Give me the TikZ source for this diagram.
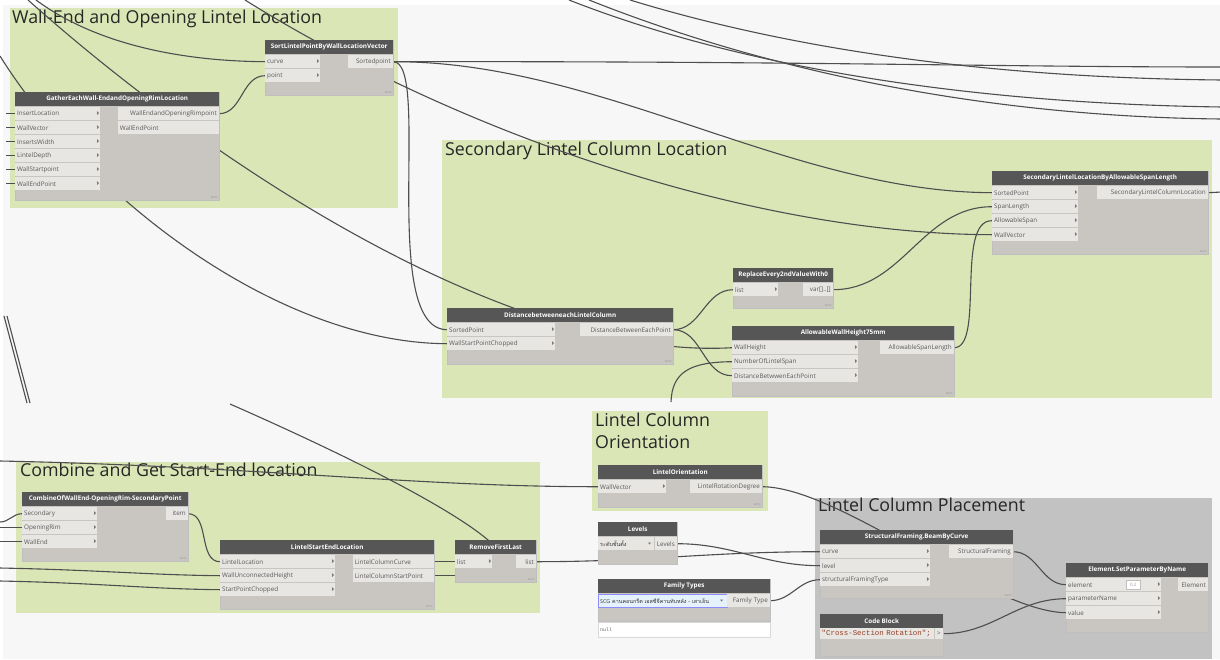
\documentclass[tikz,border=0pt]{standalone}
\usepackage{fontspec}
\setmainfont{Open Sans}
\setmonofont{Liberation Mono}
\newfontfamily\thaifont[Script=Thai]{Loma}
\usetikzlibrary{positioning,calc}

\definecolor{canvas}{RGB}{247,247,247}
\definecolor{grpgreen}{RGB}{219,230,183}
\definecolor{grpgray}{RGB}{194,194,194}
\definecolor{headgray}{RGB}{86,86,86}
\definecolor{bodygray}{RGB}{201,198,194}
\definecolor{rowgray}{RGB}{232,230,227}
\definecolor{wiregray}{RGB}{78,78,78}
\definecolor{codebrown}{RGB}{150,60,35}
\definecolor{ddblue}{RGB}{229,241,251}

\pgfdeclarelayer{grp}
\pgfdeclarelayer{wires}
\pgfsetlayers{grp,wires,main}

\tikzstyle{grpbox}=[anchor=north west, inner sep=0pt, draw=none]
\tikzstyle{grptitle}=[anchor=north west, inner sep=1pt, align=left, font=\fontsize{17.8}{22}\selectfont, text=black!85]
\tikzstyle{nbody}=[anchor=north west, fill=bodygray, draw=black!25, line width=0.4pt, inner sep=0pt]
\tikzstyle{nhead}=[anchor=north west, fill=headgray, text=white, inner sep=0pt, minimum height=14pt, font=\fontsize{6.3}{7}\selectfont\bfseries]
\tikzstyle{inrow}=[anchor=north west, fill=rowgray, inner xsep=2pt, inner ysep=0pt, minimum height=13pt, align=left, font=\fontsize{6.3}{7}\selectfont, text=black!65]
\tikzstyle{outrow}=[anchor=north east, fill=rowgray, inner xsep=2pt, inner ysep=0pt, minimum height=13pt, align=right, font=\fontsize{6.3}{7}\selectfont, text=black!65]
\tikzstyle{chev}=[anchor=east, inner sep=1pt, font=\fontsize{7}{7}\selectfont\bfseries, text=black!75]
\tikzstyle{autotag}=[anchor=south east, inner sep=1.5pt, font=\fontsize{2.6}{3}\selectfont, text=black!45]
\tikzstyle{wire}=[draw=wiregray, line width=1.1pt]

\begin{document}
\begin{tikzpicture}[x=1pt,y=-1pt]
  \useasboundingbox (0,0) rectangle (1220,659);

  % groups
  \begin{pgfonlayer}{grp}
    \fill[white] (0,0) rectangle (1220,659);
    \fill[canvas] (3,5) rectangle (1220,659);
    \node[grpbox, fill=grpgreen, minimum width=388pt, minimum height=200pt] (grpwall) at (10,8) {};
    \node[grpbox, fill=grpgreen, minimum width=770pt, minimum height=258pt] (grpsec) at (442,140) {};
    \node[grpbox, fill=grpgreen, minimum width=176pt, minimum height=100pt] (grporient) at (592,411) {};
    \node[grpbox, fill=grpgreen, minimum width=524pt, minimum height=151pt] (grpcombine) at (16,462) {};
    \node[grpbox, fill=grpgray, minimum width=397pt, minimum height=161pt] (grpplace) at (815,498) {};
    \node[grptitle] (ttlwall) at (11,9) {Wall-End and Opening Lintel Location};
    \node[grptitle] (ttlsec) at (444,141) {Secondary Lintel Column Location};
    \node[grptitle] (ttlorient) at (594,412) {Lintel Column\\Orientation};
    \node[grptitle] (ttlcombine) at (19,462) {Combine and Get Start-End location};
    \node[grptitle] (ttlplace) at (817,497) {Lintel Column Placement};
  \end{pgfonlayer}

  % free wire ends
  \coordinate (topa) at (28,0);
  \coordinate (topb) at (36,0);
  \coordinate (topd) at (245,0);
  \coordinate (lftc) at (0,56);
  \coordinate (lftedge) at (6,0);
  \coordinate (lftbot) at (0,0);
  \coordinate (rgta) at (1222,67);
  \coordinate (rgtb) at (1222,192);
  \coordinate (numtail) at (671,402);
  \coordinate (rtop) at (230,404);
  \coordinate (lfts) at (0,461);
  \coordinate (lftsec) at (0,522);
  \coordinate (lftwh) at (0,568);
  \coordinate (lftsp) at (0,581);

  % SortLintelPointByWallLocationVector
  \node[nbody, minimum width=128pt, minimum height=55pt] (sortpt) at (265,40) {};
  \node[nhead, minimum width=128pt] (sortpt-h) at (265,40) {SortLintelPointByWallLocationVector};
  \foreach \lab [count=\i] in {curve, point} {
    \node[inrow, text width=51pt] (sortpt-in\i) at (265,{41+14*\i}) {\lab};
    \node[chev] (sortpt-c\i) at (sortpt-in\i.east) {›};
  }
  \node[outrow, text width=41pt] (sortpt-out1) at (393,55) {Sortedpoint};
  \node[autotag] (sortpt-a) at (sortpt.south east) {AUTO};

  % GatherEachWall-EndandOpeningRimLocation
  \node[nbody, minimum width=204pt, minimum height=108pt] (gather) at (15,92) {};
  \node[nhead, minimum width=204pt] (gather-h) at (15,92) {GatherEachWall-EndandOpeningRimLocation};
  \foreach \lab [count=\i] in {InsertLocation, WallVector, InsertsWidth, LintelDepth, WallStartpoint, WallEndPoint} {
    \node[inrow, text width=81pt] (gather-in\i) at (15,{93+14*\i}) {\lab};
    \node[chev] (gather-c\i) at (gather-in\i.east) {›};
  }
  \node[outrow, text width=97pt] (gather-out1) at (219,107) {WallEndandOpeningRimpoint};
  \node[outrow, text width=97pt, align=left] (gather-out2) at (219,121) {WallEndPoint};
  \node[autotag] (gather-a) at (gather.south east) {AUTO};

  % SecondaryLintelLocationByAllowableSpanLength
  \node[nbody, minimum width=216pt, minimum height=83pt] (secloc) at (992,171) {};
  \node[nhead, minimum width=216pt] (secloc-h) at (992,171) {SecondaryLintelLocationByAllowableSpanLength};
  \foreach \lab [count=\i] in {SortedPoint, SpanLength, AllowableSpan, WallVector} {
    \node[inrow, text width=82pt] (secloc-in\i) at (992,{172+14*\i}) {\lab};
    \node[chev] (secloc-c\i) at (secloc-in\i.east) {›};
  }
  \node[outrow, text width=107pt] (secloc-out1) at (1208,186) {SecondaryLintelColumnLocation};
  \node[autotag] (secloc-a) at (secloc.south east) {AUTO};

  % ReplaceEvery2ndValueWith0
  \node[nbody, minimum width=100pt, minimum height=40pt] (repl) at (733,268) {};
  \node[nhead, minimum width=100pt] (repl-h) at (733,268) {ReplaceEvery2ndValueWith0};
  \node[inrow, text width=41pt] (repl-in1) at (733,283) {list};
  \node[chev] (repl-c1) at (repl-in1.east) {›};
  \node[outrow, text width=26pt] (repl-out1) at (833,283) {var[]..[]};
  \node[autotag] (repl-a) at (repl.south east) {AUTO};

  % DistancebetweeneachLintelColumn
  \node[nbody, minimum width=226pt, minimum height=56pt] (dist) at (447,308) {};
  \node[nhead, minimum width=226pt] (dist-h) at (447,308) {DistancebetweeneachLintelColumn};
  \foreach \lab [count=\i] in {SortedPoint, WallStartPointChopped} {
    \node[inrow, text width=104pt] (dist-in\i) at (447,{309+14*\i}) {\lab};
    \node[chev] (dist-c\i) at (dist-in\i.east) {›};
  }
  \node[outrow, text width=89pt] (dist-out1) at (673,323) {DistanceBetweenEachPoint};
  \node[autotag] (dist-a) at (dist.south east) {AUTO};

  % AllowableWallHeight75mm
  \node[nbody, minimum width=222pt, minimum height=70pt] (allow) at (732,326) {};
  \node[nhead, minimum width=222pt] (allow-h) at (732,326) {AllowableWallHeight75mm};
  \foreach \lab [count=\i] in {WallHeight, NumberOfLintelSpan, DistanceBetwwenEachPoint} {
    \node[inrow, text width=122pt] (allow-in\i) at (732,{327+14*\i}) {\lab};
    \node[chev] (allow-c\i) at (allow-in\i.east) {›};
  }
  \node[outrow, text width=70pt] (allow-out1) at (954,341) {AllowableSpanLength};
  \node[autotag] (allow-a) at (allow.south east) {AUTO};

  % LintelOrientation
  \node[nbody, minimum width=164pt, minimum height=42pt] (orient) at (598,465) {};
  \node[nhead, minimum width=164pt] (orient-h) at (598,465) {LintelOrientation};
  \node[inrow, text width=64pt] (orient-in1) at (598,480) {WallVector};
  \node[chev] (orient-c1) at (orient-in1.east) {›};
  \node[outrow, text width=68pt] (orient-out1) at (762,480) {LintelRotationDegree};
  \node[autotag] (orient-a) at (orient.south east) {AUTO};

  % CombineOfWallEnd-OpeningRim-SecondaryPoint
  \node[nbody, minimum width=166pt, minimum height=69pt] (combine) at (22,492) {};
  \node[nhead, minimum width=166pt] (combine-h) at (22,492) {CombineOfWallEnd-OpeningRim-SecondaryPoint};
  \foreach \lab [count=\i] in {Secondary, OpeningRim, WallEnd} {
    \node[inrow, text width=71pt] (combine-in\i) at (22,{493+14*\i}) {\lab};
    \node[chev] (combine-c\i) at (combine-in\i.east) {›};
  }
  \node[outrow, text width=18pt] (combine-out1) at (188,507) {item};
  \node[autotag] (combine-a) at (combine.south east) {AUTO};

  % LintelStartEndLocation
  \node[nbody, minimum width=214pt, minimum height=69pt] (startend) at (220,540) {};
  \node[nhead, minimum width=214pt] (startend-h) at (220,540) {LintelStartEndLocation};
  \foreach \lab [count=\i] in {LintelLocation, WallUnconnectedHeight, StartPointChopped} {
    \node[inrow, text width=111pt] (startend-in\i) at (220,{541+14*\i}) {\lab};
    \node[chev] (startend-c\i) at (startend-in\i.east) {›};
  }
  \node[outrow, text width=77pt, align=left] (startend-out1) at (434,555) {LintelColumnCurve};
  \node[outrow, text width=77pt, align=left] (startend-out2) at (434,569) {LintelColumnStartPoint};
  \node[autotag] (startend-a) at (startend.south east) {AUTO};

  % RemoveFirstLast
  \node[nbody, minimum width=81pt, minimum height=42pt] (remove) at (455,540) {};
  \node[nhead, minimum width=81pt] (remove-h) at (455,540) {RemoveFirstLast};
  \node[inrow, text width=33pt] (remove-in1) at (455,555) {list};
  \node[chev] (remove-c1) at (remove-in1.east) {›};
  \node[outrow, text width=16pt] (remove-out1) at (536,555) {list};
  \node[autotag] (remove-a) at (remove.south east) {AUTO};

  % Levels
  \node[nbody, minimum width=79pt, minimum height=42pt] (levels) at (598,522) {};
  \node[nhead, minimum width=79pt] (levels-h) at (598,522) {Levels};
  \node[inrow, text width=52pt, text=black!80, font=\fontsize{5.4}{6}\thaifont] (levels-dd) at (598,537) {ระดับชั้นตั้ง};
  \fill[black!55] (648,542.5) -- (651,542.5) -- (649.5,544.5) -- cycle;
  \node[outrow, text width=18pt] (levels-out) at (677,537) {Levels};

  % Family Types
  \node[nbody, minimum width=172pt, minimum height=42pt] (famtypes) at (598,579) {};
  \node[nhead, minimum width=172pt] (famtypes-h) at (598,579) {Family Types};
  \node[inrow, fill=ddblue, draw=blue!45, line width=0.4pt, text width=125pt, text=black!80, font=\fontsize{5.4}{6}\selectfont] (famtypes-dd) at (598,594) {SCG {\thaifont คานคอนกรีต เอสซีจีคานทับหลัง - เสาเอ็น}};
  \fill[black!55] (720,599.5) -- (723,599.5) -- (721.5,601.5) -- cycle;
  \node[outrow, text width=39pt] (famtypes-out) at (770,594) {Family Type};
  \node[anchor=north west, fill=white, draw=black!15, inner xsep=2pt, inner ysep=0pt, minimum height=15pt, text width=168pt, align=left, font=\fontsize{5}{6}\ttfamily, text=black!60] (famtypes-null) at (598,622) {null};

  % StructuralFraming.BeamByCurve
  \node[nbody, minimum width=193pt, minimum height=68pt] (beam) at (820,530) {};
  \node[nhead, minimum width=193pt] (beam-h) at (820,530) {StructuralFraming.BeamByCurve};
  \foreach \lab [count=\i] in {curve, level, structuralFramingType} {
    \node[inrow, text width=106pt] (beam-in\i) at (820,{531+14*\i}) {\lab};
    \node[chev] (beam-c\i) at (beam-in\i.east) {›};
  }
  \node[outrow, text width=60pt] (beam-out1) at (1013,545) {StructuralFraming};
  \node[autotag] (beam-a) at (beam.south east) {AUTO};

  % Code Block
  \node[nbody, minimum width=123pt, minimum height=42pt] (codeblk) at (820,614) {};
  \node[nhead, minimum width=123pt] (codeblk-h) at (820,614) {Code Block};
  \node[anchor=north west, fill=rowgray, inner xsep=1.5pt, inner ysep=0pt, minimum height=11pt, text width=111pt, align=left, font=\fontsize{7.4}{8}\ttfamily, text=codebrown] (codeblk-code) at (820,628) {\symbol{34}Cross-Section Rotation\symbol{34};};
  \node[outrow, minimum height=11pt, text width=4pt, align=center] (codeblk-out) at (943,628) {>};

  % Element.SetParameterByName
  \node[nbody, minimum width=142pt, minimum height=69pt] (setparam) at (1066,563) {};
  \node[nhead, minimum width=142pt] (setparam-h) at (1066,563) {Element.SetParameterByName};
  \foreach \lab [count=\i] in {element, parameterName, value} {
    \node[inrow, text width=91pt] (setparam-in\i) at (1066,{564+14*\i}) {\lab};
    \node[chev] (setparam-c\i) at (setparam-in\i.east) {›};
  }
  \node[anchor=north west, fill=white, draw=black!25, inner sep=0pt, minimum width=14pt, minimum height=9pt, font=\fontsize{4.5}{5}\selectfont, text=black!40] (setparam-spin) at (1126,580) {0.2};
  \node[outrow, text width=26pt] (setparam-out1) at (1208,578) {Element};

  % wires
  \begin{pgfonlayer}{wires}
    \draw[wire] (topa) .. controls (230,180) and (520,360) .. (allow-in1.west);
    \draw[wire] (topb) .. controls (90,40) and (170,61) .. (sortpt-in1.west);
    \draw[wire] (topd) .. controls (470,140) and (760,234) .. (secloc-in4.west);
    \draw[wire] (lftc) .. controls (90,200) and (280,343) .. (dist-in2.west);
    \draw[wire] (gather-out1.east) to[out=0, in=180] (sortpt-in2.west);
    \foreach \i in {1,...,6}
      \draw[wire] (gather-in\i.west -| lftedge) -- (gather-in\i.west);
    \draw[wire] (sortpt-out1.east) .. controls (800,61) and (1000,67) .. (rgta);
    \draw[wire] (sortpt-out1.east) .. controls (600,61) and (790,192) .. (secloc-in1.west);
    \draw[wire] (sortpt-out1.east) .. controls (432,61) and (378,329) .. (dist-in1.west);
    \draw[wire] (secloc-out1.east) -- (rgtb);
    \draw[wire] (dist-out1.east) to[out=0, in=180] (repl-in1.west);
    \draw[wire] (dist-out1.east) to[out=0, in=180] (allow-in3.west);
    \draw[wire] (repl-out1.east) to[out=0, in=180] (secloc-in2.west);
    \draw[wire] (allow-out1.east) .. controls (985,348) and (955,220) .. (secloc-in3.west);
    \draw[wire] (numtail) .. controls (672,372) and (690,362) .. (allow-in2.west);
    % long wires to the right edge
    \coordinate (tope) at (630,0);
    \coordinate (topf) at (569,0);
    \coordinate (topg) at (589,0);
    \coordinate (rgtc) at (1222,80);
    \coordinate (rgtd) at (1222,107);
    \coordinate (rgte) at (1222,119);
    \draw[wire] (tope) .. controls (800,52) and (1000,78) .. (rgtc);
    \draw[wire] (topf) .. controls (760,75) and (1000,104) .. (rgtd);
    \draw[wire] (topg) .. controls (780,76) and (1000,117) .. (rgte);
    % left edge strands
    \coordinate (lfta) at (4,316);
    \coordinate (lftb) at (27,403);
    \coordinate (lftx) at (7,316);
    \coordinate (lfty) at (30,403);
    \draw[wire] (lfta) -- (lftb);
    \draw[wire] (lftx) -- (lfty);
    % bottom half
    \draw[wire] (rtop) .. controls (380,470) and (470,520) .. (remove-h.center);
    \draw[wire] (lfts) .. controls (250,466) and (420,487) .. (orient-in1.west);
    \draw[wire] (lftsec) to[out=0, in=180] (combine-in1.west);
    \draw[wire] (combine-in2.west -| lftbot) -- (combine-in2.west);
    \draw[wire] (combine-in3.west -| lftbot) -- (combine-in3.west);
    \draw[wire] (lftwh) .. controls (100,570) and (150,575) .. (startend-in2.west);
    \draw[wire] (lftsp) .. controls (100,583) and (150,589) .. (startend-in3.west);
    \draw[wire] (combine-out1.east) .. controls +(22,0) and +(-22,0) .. (startend-in1.west);
    \draw[wire] (startend-out1.east) -- (remove-in1.west);
    \draw[wire] (startend-out2.east) -- (startend-out2.east -| remove.center);
    \draw[wire] (remove-out1.east) to[out=0, in=180] (beam-in1.west);
    \draw[wire] (levels-out.east) to[out=0, in=180] (beam-in2.west);
    \draw[wire] (famtypes-out.east) to[out=0, in=180] (beam-in3.west);
    \draw[wire] (orient-out1.east) .. controls (840,487) and (990,612) .. (setparam-in3.west);
    \draw[wire] (beam-out1.east) to[out=0, in=180] (setparam-in1.west);
    \draw[wire] (codeblk-out.east) to[out=0, in=180] (setparam-in2.west);
  \end{pgfonlayer}
\end{tikzpicture}
\end{document}
